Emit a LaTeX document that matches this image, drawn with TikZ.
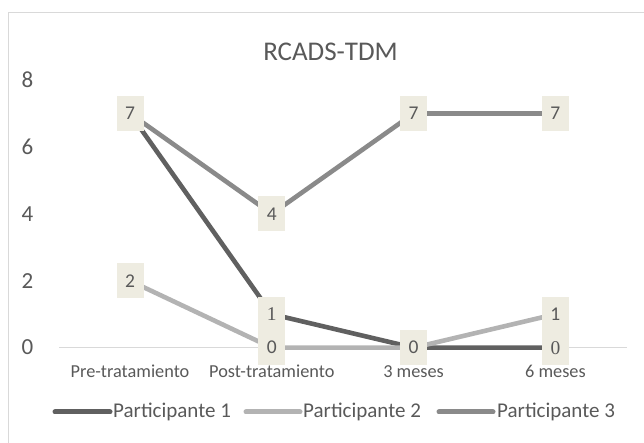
\documentclass[tikz,border=0pt]{standalone}
\usepackage{fontspec}
\setmainfont{Carlito}
\newfontfamily\numserif{Liberation Serif}
\definecolor{txt}{HTML}{595959}
\definecolor{rejilla}{HTML}{D9D9D9}
\definecolor{caja}{HTML}{EEECE1}
\definecolor{serA}{HTML}{606060}
\definecolor{serB}{HTML}{B3B3B3}
\definecolor{serC}{HTML}{8A8A8A}
\begin{document}
\begin{tikzpicture}[x=1pt,y=1pt,line join=round,line cap=round,
	serie/.style={line width=4.6pt},
	valor/.style={fill=caja,text=txt,minimum width=27pt,minimum height=35pt,inner sep=0pt,font=\fontsize{19.5}{20}\selectfont},
	valorA/.style={valor,font={\numserif\fontsize{19.5}{20}\selectfont}},
	eje/.style={text=txt,inner sep=0pt,font=\fontsize{23}{24}\selectfont},
	cat/.style={text=txt,inner sep=0pt,anchor=base,font=\fontsize{18.3}{20}\selectfont},
	ley/.style={text=txt,inner sep=0pt,anchor=base west,font=\fontsize{21}{22}\selectfont}]
	\clip (0,0) rectangle (644,443);
	\draw[rejilla,line width=1.5pt,line cap=butt] (8.3,-5) |- (660,430.3);
	\draw[rejilla,line width=1pt,line cap=butt] (59,95.3) -- (626.7,95.3);
	\node[eje,anchor=base,font=\fontsize{27}{28}\selectfont] (titulo) at (330.5,382.3) {RCADS-TDM};
	\foreach \v in {0,2,...,8}
		\node[eje,anchor=base east] (y\v) at (33.5,95.3+33.46*\v-7.3) {\v};
	\path
	(130,329.5) coordinate (A1) (271.8,128.8) coordinate (A2) (413.6,95.3) coordinate (A3) (555.4,95.3) coordinate (A4)
	(130,162.2) coordinate (B1) (271.8,95.3) coordinate (B2) (413.6,95.3) coordinate (B3) (555.4,128.8) coordinate (B4)
	(130,329.5) coordinate (C1) (271.8,229.1) coordinate (C2) (413.6,329.5) coordinate (C3) (555.4,329.5) coordinate (C4)
	;
	\draw[serie,serA] (A1)--(A2)--(A3)--(A4);
	\draw[serie,serB] (B1)--(B2)--(B3)--(B4);
	\draw[serie,serC] (C1)--(C2)--(C3)--(C4);
	\node[valorA] (a1) at (A1) {7};
	\node[valorA] (a2) at (A2) {1};
	\node[valorA] (a3) at (A3) {0};
	\node[valorA] (a4) at (A4) {0};
	\node[valor] (b1) at (B1) {2};
	\node[valor] (b2) at (B2) {0};
	\node[valor] (b3) at (B3) {0};
	\node[valor] (b4) at (B4) {1};
	\node[valor] (c1) at (C1) {7};
	\node[valor] (c2) at (C2) {4};
	\node[valor] (c3) at (C3) {7};
	\node[valor] (c4) at (C4) {7};
	\node[cat] (x1) at (130,65) {Pre-tratamiento};
	\node[cat] (x2) at (271.8,65) {Post-tratamiento};
	\node[cat] (x3) at (413.6,65) {3 meses};
	\node[cat] (x4) at (555.4,65) {6 meses};
	\path
	(55,31) coordinate (LA) (110,31) coordinate (MA)
	(246,31) coordinate (LB) (300,31) coordinate (MB)
	(439,31) coordinate (LC) (493,31) coordinate (MC)
	;
	\draw[serie,serA,line width=5pt] (LA)--(MA);
	\draw[serie,serB,line width=5pt] (LB)--(MB);
	\draw[serie,serC,line width=5pt] (LC)--(MC);
	\node[ley] (ta) at (113,25) {Participante 1};
	\node[ley] (tb) at (303,25) {Participante 2};
	\node[ley] (tc) at (497,25) {Participante 3};
\end{tikzpicture}
\end{document}
